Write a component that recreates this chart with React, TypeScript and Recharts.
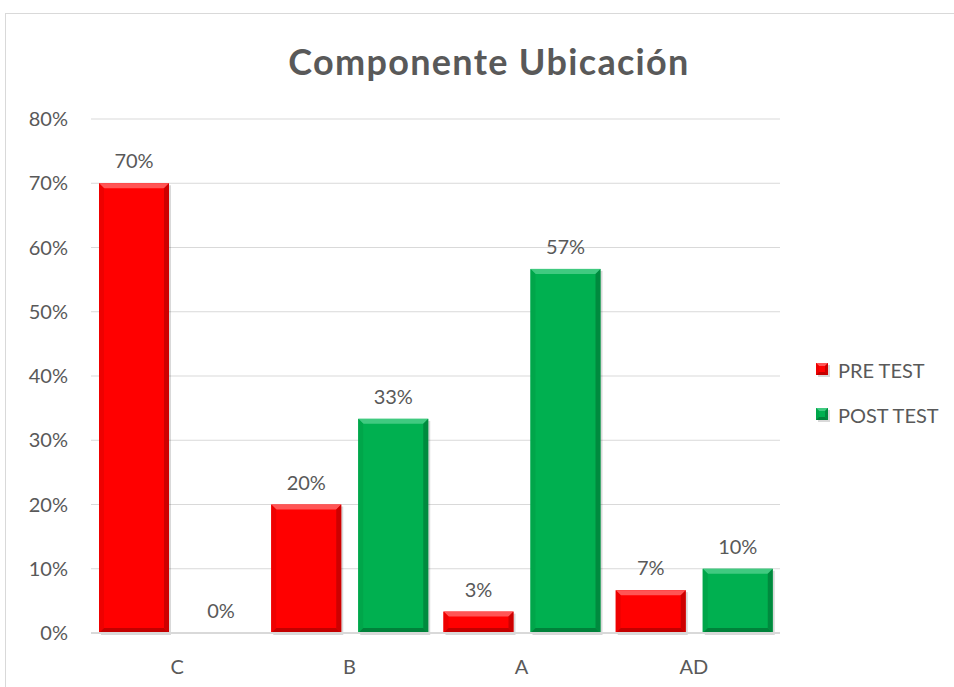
import React from 'react';
import {
  BarChart,
  Bar,
  XAxis,
  YAxis,
  CartesianGrid,
  LabelList,
} from 'recharts';

const categories = ['C', 'B', 'A', 'AD'];
const preTest = [70, 20, 3.33, 6.67];
const postTest = [0, 33.33, 56.67, 10];
const yTicks = [0, 10, 20, 30, 40, 50, 60, 70, 80];

const data = categories.map((name, i) => ({
  name,
  pre: preTest[i],
  post: postTest[i],
}));

const FONT = "Lato, 'Open Sans', sans-serif";
const TEXT = '#595959';

const palettes: Record<string, { base: string; light: string; side: string; dark: string }> = {
  red: { base: '#FF0000', light: '#FF5555', side: '#EE0000', dark: '#B80000' },
  green: { base: '#00B050', light: '#40CA80', side: '#00A64A', dark: '#007A36' },
};

function bevel(x: number, y: number, w: number, h: number, b: number, p: { base: string; light: string; side: string; dark: string }) {
  return (
    <g>
      <rect x={x + 2} y={y + 2} width={w} height={h} fill="#000" opacity={0.15} />
      <rect x={x} y={y} width={w} height={h} fill={p.base} />
      <polygon points={`${x},${y} ${x + w},${y} ${x + w - b},${y + b} ${x + b},${y + b}`} fill={p.light} />
      <polygon points={`${x},${y} ${x + b},${y + b} ${x + b},${y + h - b} ${x},${y + h}`} fill={p.side} />
      <polygon points={`${x + w},${y} ${x + w},${y + h} ${x + w - b},${y + h - b} ${x + w - b},${y + b}`} fill={p.dark} opacity={0.7} />
      <polygon points={`${x},${y + h} ${x + w},${y + h} ${x + w - b},${y + h - b} ${x + b},${y + h - b}`} fill={p.dark} opacity={0.85} />
    </g>
  );
}

function makeShape(key: string) {
  return (props: any) => {
    const { x, y, width, height } = props;
    if (!height || height <= 0) return <g />;
    const b = Math.min(5, height / 2, width / 2);
    return bevel(x, y, width, height, b, palettes[key]);
  };
}

const legendItems = [
  { label: 'PRE TEST', key: 'red' },
  { label: 'POST TEST', key: 'green' },
];

function ChartLegend() {
  return (
    <div
      style={{
        position: 'absolute',
        left: 816,
        top: 347,
        fontFamily: FONT,
        fontSize: 20,
        color: TEXT,
      }}
    >
      {legendItems.map((it) => (
        <div key={it.label} style={{ display: 'flex', alignItems: 'center', height: 45 }}>
          <svg width={14} height={14} style={{ marginRight: 8 }}>
            {bevel(0, 0, 12, 12, 3, palettes[it.key])}
          </svg>
          <span>{it.label}</span>
        </div>
      ))}
    </div>
  );
}

export default function App() {
  return (
    <div
      style={{
        position: 'absolute',
        left: 0,
        top: 0,
        width: 954,
        height: 687,
        overflow: 'hidden',
        background: '#fff',
      }}
    >
      <div
        style={{
          position: 'absolute',
          left: 5,
          top: 13,
          width: 960,
          height: 700,
          border: '1px solid #d9d9d9',
        }}
      />
      <div
        style={{
          position: 'absolute',
          left: 0,
          width: 978,
          top: 40,
          textAlign: 'center',
          fontFamily: FONT,
          fontWeight: 700,
          fontSize: 36,
          letterSpacing: 1.3,
          lineHeight: '42px',
          color: TEXT,
        }}
      >
        Componente Ubicación
      </div>
      <BarChart
        width={954}
        height={687}
        data={data}
        margin={{ top: 119, right: 174, bottom: 0, left: 0 }}
        barCategoryGap={8}
        barGap={17}
        style={{ position: 'absolute', left: 0, top: 0 }}
      >
        <CartesianGrid vertical={false} stroke="#d9d9d9" />
        <XAxis
          dataKey="name"
          height={54}
          tickLine={false}
          tickMargin={21}
          axisLine={{ stroke: '#d9d9d9', strokeWidth: 2 }}
          tick={{ fill: TEXT, fontSize: 20, fontFamily: FONT }}
        />
        <YAxis
          width={91}
          domain={[0, 80]}
          ticks={yTicks}
          tickFormatter={(v) => `${v}%`}
          tickLine={false}
          axisLine={false}
          tickMargin={17}
          tick={{ fill: TEXT, fontSize: 20, fontFamily: FONT }}
        />
        <Bar dataKey="pre" name="PRE TEST" fill="#FF0000" shape={makeShape('red')} isAnimationActive={false}>
          <LabelList
            dataKey="pre"
            position="top"
            offset={15}
            formatter={(v: any) => `${Math.round(v)}%`}
            style={{ fill: TEXT, fontSize: 20, fontFamily: FONT }}
          />
        </Bar>
        <Bar dataKey="post" name="POST TEST" fill="#00B050" shape={makeShape('green')} isAnimationActive={false}>
          <LabelList
            dataKey="post"
            position="top"
            offset={15}
            formatter={(v: any) => `${Math.round(v)}%`}
            style={{ fill: TEXT, fontSize: 20, fontFamily: FONT }}
          />
        </Bar>
      </BarChart>
      <ChartLegend />
    </div>
  );
}
